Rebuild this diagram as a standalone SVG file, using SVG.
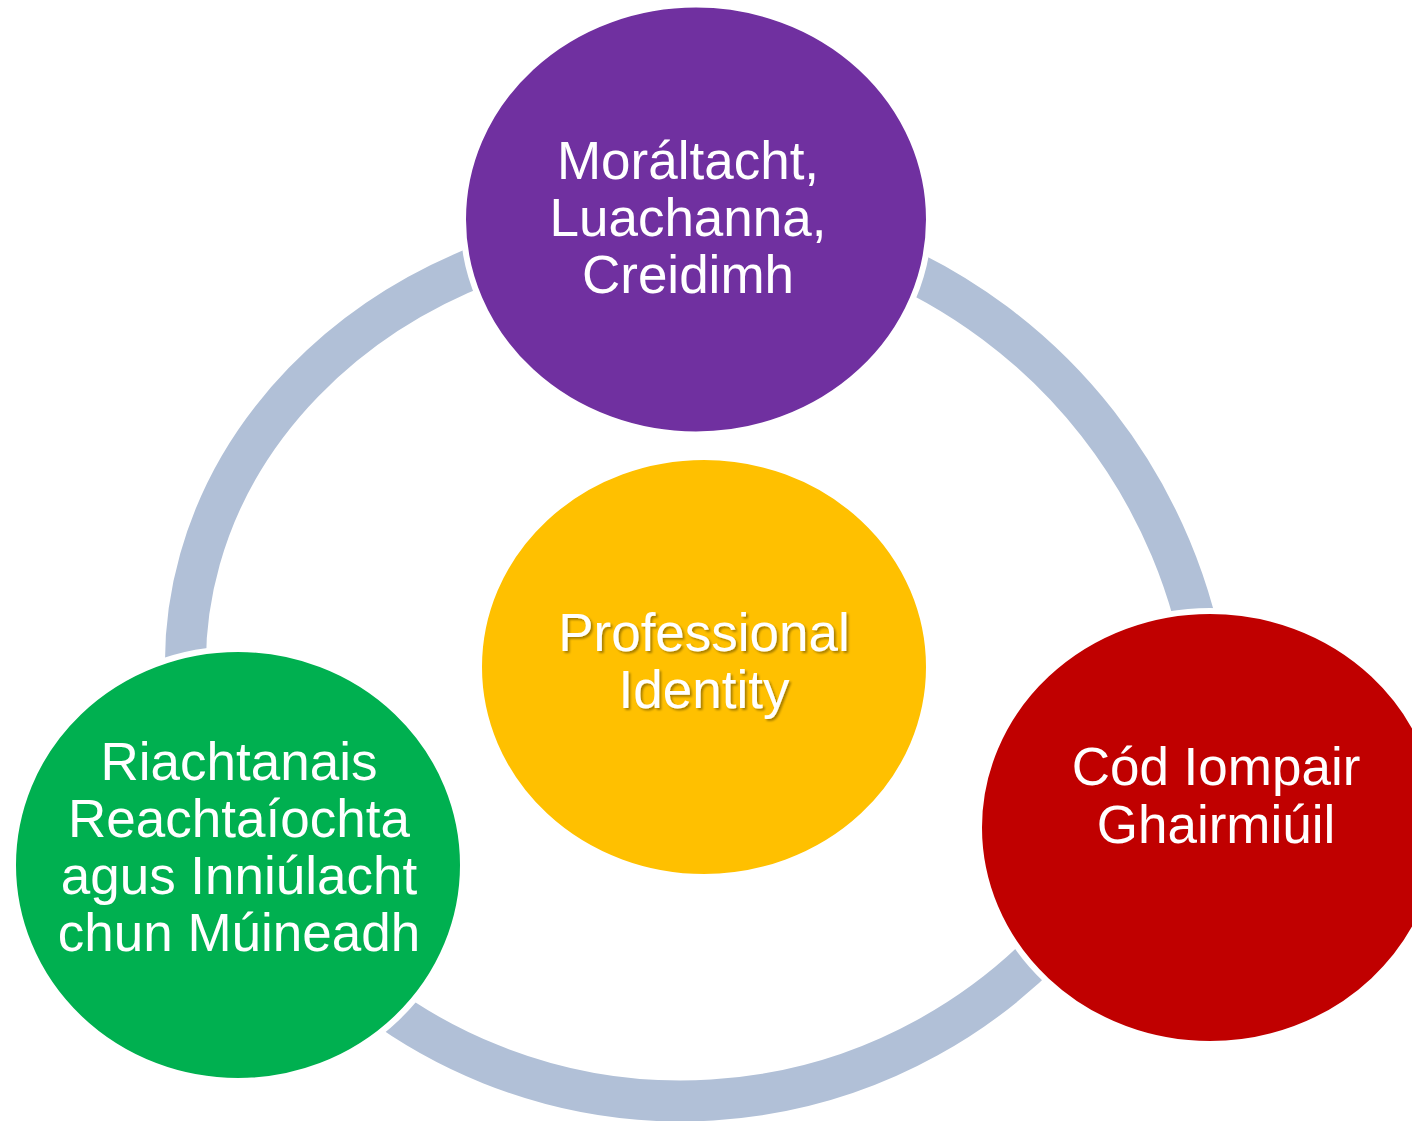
<svg xmlns="http://www.w3.org/2000/svg" width="1412" height="1121" viewBox="0 0 1412 1121">
  <defs>
    <filter id="shadow" x="-10%" y="-10%" width="130%" height="130%">
      <feDropShadow dx="2" dy="2" stdDeviation="1" flood-color="#000" flood-opacity="0.35"/>
    </filter>
  </defs>
  <style>
    .arc { fill: none; stroke: #B1C0D7; stroke-width: 41; }
    .node { stroke: #FFFFFF; stroke-width: 6; }
    .lbl { fill: #FFFFFF; font-family: "Liberation Sans", Arial, sans-serif; font-size: 53px; text-anchor: middle; }
  </style>
  <rect width="1412" height="1121" fill="#FFFFFF"/>
  <g id="connectors">
    <path class="arc" d="M 873.1 254.4 A 543.4 543.4 0 0 1 1207.6 682.6"/>
    <path class="arc" d="M 1083.7 904.6 A 511 511 0 0 1 319.7 951.3"/>
    <path class="arc" d="M 193.2 738.9 A 504.5 437 0 0 1 690 226"/>
  </g>
  <g id="node-moraltacht">
    <ellipse class="node" cx="696" cy="219.5" rx="233" ry="215" fill="#7030A0"/>
    <text class="lbl" x="688" y="179">Moráltacht,</text>
    <text class="lbl" x="688" y="236">Luachanna,</text>
    <text class="lbl" x="688" y="293">Creidimh</text>
  </g>
  <g id="node-cod">
    <ellipse class="node" cx="1210" cy="827.5" rx="231" ry="216.5" fill="#C00000"/>
    <text class="lbl" x="1216" y="785">Cód Iompair</text>
    <text class="lbl" x="1216" y="843">Ghairmiúil</text>
  </g>
  <g id="node-riachtanais">
    <ellipse class="node" cx="238" cy="865" rx="225" ry="216" fill="#00B050"/>
    <text class="lbl" x="239" y="780">Riachtanais</text>
    <text class="lbl" x="239" y="837">Reachtaíochta</text>
    <text class="lbl" x="239" y="894">agus Inniúlacht</text>
    <text class="lbl" x="239" y="951">chun Múineadh</text>
  </g>
  <g id="node-professional-identity">
    <ellipse class="node" cx="704" cy="667" rx="225" ry="210" fill="#FFC000"/>
    <g filter="url(#shadow)">
      <text class="lbl" x="704" y="651">Professional</text>
      <text class="lbl" x="704" y="708">Identity</text>
    </g>
  </g>
</svg>
